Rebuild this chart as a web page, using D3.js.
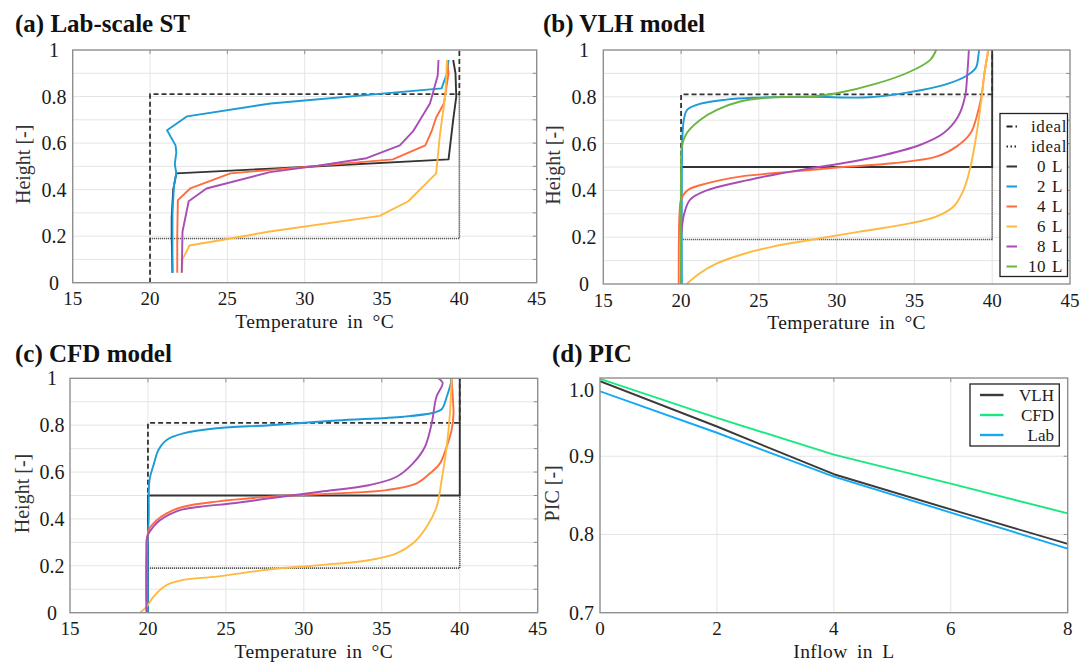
<!DOCTYPE html>
<html><head><meta charset="utf-8">
<script src="https://cdn.jsdelivr.net/npm/d3@7"></script>
<style>
body{margin:0;background:#fff;}
svg{display:block;font-family:"Liberation Serif","Times New Roman",serif;}
</style></head><body>
<svg id="c" width="1083" height="662"></svg>
<script>
// ---------------- DATA ----------------
const temperatureTicks = [15, 20, 25, 30, 35, 40, 45];
const heightTicks = [0, 0.2, 0.4, 0.6, 0.8, 1];
const heightGrid = [0.1, 0.2, 0.3, 0.4, 0.5, 0.6, 0.7, 0.8, 0.9];
const seriesNames = ["0 L", "2 L", "4 L", "6 L", "8 L", "10 L"];
const seriesColors = ["#333333", "#1b9bd7", "#ff6c3e", "#ffb940", "#a84db6", "#6bb541"];

// ideal profiles [temperature, height]
const idealDashed = [[20, 0], [20, 0.81], [40, 0.81], [40, 1]];
const idealDotted = [[20, 0.19], [40, 0.19], [40, 0.81]];
const ideal0L = [[20, 0], [20, 0.5], [40, 0.5], [40, 1]];

// (a) Lab-scale ST measured profiles
const lab0L = [[21.45,0.043],[21.4,0.2],[21.4,0.28],[21.5,0.4],[21.7,0.47],[27.8,0.49],[39.3,0.53],[39.6,0.7],[39.8,0.8],[39.75,0.9],[39.6,0.957]];
const lab2L = [[21.45,0.043],[21.45,0.3],[21.55,0.42],[21.7,0.47],[21.6,0.51],[21.7,0.56],[21.65,0.59],[21.1,0.655],[22.4,0.715],[27.8,0.77],[38.85,0.835],[39.2,0.9],[39.3,0.957]];
const lab4L = [[21.76,0.043],[21.76,0.2],[21.8,0.355],[22.6,0.405],[25.2,0.47],[27.8,0.485],[35.7,0.53],[37.8,0.59],[38.2,0.65],[38.5,0.71],[39.0,0.77],[39.3,0.9],[39.2,0.957]];
const lab6L = [[22.05,0.043],[22.1,0.1],[22.55,0.16],[25.2,0.19],[27.75,0.22],[34.85,0.287],[36.7,0.35],[38.5,0.47],[38.75,0.64],[39.1,0.81],[39.2,0.957]];
const lab8L = [[22.05,0.043],[22.1,0.22],[22.5,0.35],[23.65,0.405],[27.75,0.475],[30.55,0.5],[34.0,0.535],[36.15,0.59],[37.0,0.65],[38.1,0.77],[38.6,0.89],[38.65,0.957]];

// (b) VLH model profiles
const vlh2L = [[20.05,0],[20.05,0.5],[20.1,0.65],[20.2,0.71],[20.4,0.745],[21.2,0.77],[22.9,0.788],[24.6,0.796],[28.3,0.8],[32.1,0.798],[34.7,0.82],[36.86,0.85],[38.36,0.89],[38.96,0.925],[39.1,0.97],[39.15,1]];
const vlh4L = [[19.85,0],[19.9,0.3],[20.0,0.36],[20.4,0.40],[21.65,0.43],[23.8,0.459],[25.9,0.473],[28.3,0.487],[30.4,0.5],[33.6,0.516],[36.4,0.544],[37.7,0.587],[38.6,0.644],[39.0,0.715],[39.3,0.8],[39.5,0.9],[39.75,1]];
const vlh6L = [[20.36,0],[21.2,0.046],[22.3,0.088],[23.8,0.124],[25.9,0.16],[28.3,0.188],[31.5,0.224],[34.7,0.259],[36.4,0.288],[37.5,0.33],[38.15,0.40],[38.6,0.5],[39.0,0.644],[39.3,0.786],[39.5,0.9],[39.75,1]];
const vlh8L = [[20.0,0],[20.0,0.2],[20.05,0.24],[20.2,0.30],[20.57,0.36],[21.65,0.40],[23.8,0.437],[25.9,0.466],[28.3,0.494],[30.0,0.512],[32.6,0.544],[35.35,0.594],[36.86,0.644],[37.8,0.715],[38.25,0.8],[38.4,0.9],[38.5,1]];
const vlh10L = [[20.0,0],[20.0,0.5],[20.05,0.587],[20.36,0.644],[21.2,0.70],[22.3,0.744],[23.8,0.78],[25.9,0.798],[28.3,0.8],[30.0,0.815],[32.6,0.857],[34.7,0.907],[36.0,0.957],[36.4,1]];

// (c) CFD model profiles
const cfd2L = [[20,0],[20,0.33],[20.05,0.4],[20.1,0.566],[20.39,0.637],[20.67,0.694],[21.2,0.737],[22.27,0.765],[24.4,0.787],[27.83,0.8],[32.1,0.82],[36.4,0.836],[38.3,0.853],[38.84,0.868],[39.16,0.92],[39.45,0.99],[39.4,1]];
const cfd4L = [[19.9,0.05],[19.95,0.3],[20.05,0.353],[20.56,0.395],[21.2,0.424],[22.27,0.452],[24.4,0.474],[27.83,0.495],[32.1,0.509],[35.3,0.523],[37.24,0.552],[38.1,0.595],[38.73,0.637],[39.16,0.708],[39.48,0.78],[39.6,0.85],[39.55,0.92],[39.48,1]];
const cfd6L = [[19.49,0],[19.92,0.026],[20.35,0.068],[21.2,0.118],[22.27,0.14],[24.4,0.154],[27.83,0.185],[31.04,0.203],[34.24,0.225],[35.95,0.253],[37.0,0.296],[37.88,0.367],[38.52,0.452],[38.84,0.566],[39.16,0.708],[39.37,0.85],[39.48,1]];
const cfd8L = [[19.9,0],[19.9,0.25],[19.95,0.324],[20.35,0.367],[20.77,0.395],[22.06,0.438],[23.34,0.452],[25.47,0.467],[27.83,0.488],[31.04,0.516],[34.24,0.545],[35.95,0.58],[37.0,0.637],[37.77,0.708],[38.2,0.808],[38.5,0.92],[38.9,0.98],[38.6,1]];

// (d) PIC
const inflowTicks = [0, 2, 4, 6, 8];
const inflow = [0, 2, 4, 6, 8];
const picTicks = [0.7, 0.8, 0.9, 1.0];
const picVLH = [0.996, 0.938, 0.877, 0.832, 0.788];
const picCFD = [0.999, 0.949, 0.902, 0.865, 0.827];
const picLab = [0.983, 0.930, 0.874, 0.828, 0.782];
const picNames = ["VLH", "CFD", "Lab"];
const picColors = ["#3a3a3a", "#17e882", "#14a9f4"];

// ---------------- DRAWING ----------------
const svg = d3.select("#c");
const FRAME = "#8f8f8f", GRID = "#e4e4e4", TXT = "#1a1a1a";
let clipId = 0;

function panel(cfg) {
  const x = d3.scaleLinear().domain(cfg.xDomain).range([cfg.left, cfg.right]);
  const y = d3.scaleLinear().domain(cfg.yDomain).range([cfg.bottom, cfg.top]);
  const g = svg.append("g");
  g.selectAll("line.gx").data(cfg.xGrid).join("line").attr("class", "gx")
    .attr("x1", d => x(d)).attr("x2", d => x(d)).attr("y1", cfg.top).attr("y2", cfg.bottom)
    .attr("stroke", GRID).attr("stroke-width", 1);
  g.selectAll("line.gy").data(cfg.yGrid).join("line").attr("class", "gy")
    .attr("y1", d => y(d)).attr("y2", d => y(d)).attr("x1", cfg.left).attr("x2", cfg.right)
    .attr("stroke", GRID).attr("stroke-width", 1);
  g.selectAll("line.tt").data(cfg.xGrid).join("line").attr("class", "tt")
    .attr("x1", d => x(d)).attr("x2", d => x(d)).attr("y1", cfg.top).attr("y2", cfg.top + 4)
    .attr("stroke", FRAME);
  g.selectAll("line.tr").data(cfg.yGrid).join("line").attr("class", "tr")
    .attr("y1", d => y(d)).attr("y2", d => y(d)).attr("x1", cfg.right - 4).attr("x2", cfg.right)
    .attr("stroke", FRAME);
  const id = "clip" + (clipId++);
  svg.append("clipPath").attr("id", id).append("rect")
    .attr("x", cfg.left).attr("y", cfg.top - 1)
    .attr("width", cfg.right - cfg.left).attr("height", cfg.bottom - cfg.top + 2);
  const plot = g.append("g").attr("clip-path", `url(#${id})`);
  return { x, y, g, plot };
}

function frame(P, cfg) {
  P.g.append("rect").attr("x", cfg.left).attr("y", cfg.top)
    .attr("width", cfg.right - cfg.left).attr("height", cfg.bottom - cfg.top)
    .attr("fill", "none").attr("stroke", FRAME).attr("stroke-width", 1.4);
}

function labels(P, cfg) {
  const g = P.g;
  g.selectAll("text.xt").data(cfg.xTicks).join("text").attr("class", "xt")
    .attr("x", d => P.x(d)).attr("y", cfg.bottom + 16).attr("dy", "0.35em")
    .attr("text-anchor", "middle").attr("font-size", 19).attr("fill", TXT)
    .text(d => cfg.xFmt(d));
  g.selectAll("text.yt").data(cfg.yTicks).join("text").attr("class", "yt")
    .attr("x", d => cfg.yTickX(d)).attr("y", d => P.y(d) + (cfg.yTickDy ? cfg.yTickDy(d) : 0)).attr("dy", "0.35em")
    .attr("text-anchor", cfg.yAnchor).attr("font-size", 20).attr("fill", TXT)
    .text(d => cfg.yFmt(d));
  g.append("text").attr("x", (cfg.left + cfg.right) / 2 + 10).attr("y", cfg.bottom + 38).attr("dy", "0.35em")
    .attr("text-anchor", "middle").attr("font-size", 19.5).attr("word-spacing", 4).attr("letter-spacing", 0.4)
    .attr("fill", TXT).text(cfg.xLabel);
  g.append("text").attr("transform", `translate(${cfg.yLabelX},${(cfg.top + cfg.bottom) / 2 - 2}) rotate(-90)`)
    .attr("dy", "0.35em").attr("text-anchor", "middle").attr("font-size", 20)
    .attr("fill", "#333").text(cfg.yLabel);
  svg.append("text").attr("x", cfg.titleX).attr("y", cfg.titleY)
    .attr("font-size", 25).attr("font-weight", "bold").attr("fill", "#111").text(cfg.title);
}

function drawIdeals(P, withZero) {
  const line = d3.line().x(d => P.x(d[0])).y(d => P.y(d[1]));
  P.plot.append("path").attr("d", line(idealDotted)).attr("fill", "none")
    .attr("stroke", "#555").attr("stroke-width", 1.6).attr("stroke-dasharray", "1.2,0.8");
  P.plot.append("path").attr("d", line(idealDashed)).attr("fill", "none")
    .attr("stroke", "#333").attr("stroke-width", 1.8).attr("stroke-dasharray", "5,3");
  if (withZero) {
    P.plot.append("path").attr("d", line(ideal0L)).attr("fill", "none")
      .attr("stroke", "#333").attr("stroke-width", 1.8);
  }
}

function drawSeries(P, list, colors, curve) {
  const line = d3.line().x(d => P.x(d[0])).y(d => P.y(d[1])).curve(curve);
  P.plot.selectAll("path.s").data(list).join("path").attr("class", "s")
    .attr("d", d => line(d.values)).attr("fill", "none")
    .attr("stroke", d => colors[d.idx]).attr("stroke-width", 1.9)
    .attr("stroke-linejoin", "round");
}

const fmtT = d => String(d);
const fmtH = d => String(d);

// (a)
const cfgA = { left: 72.7, right: 536.7, top: 50, bottom: 282.7, xDomain: [15, 45], yDomain: [0, 1],
  xGrid: [20, 25, 30, 35, 40], yGrid: heightGrid, xTicks: temperatureTicks, yTicks: heightTicks,
  xFmt: fmtT, yFmt: fmtH, yAnchor: "middle", yTickX: d => 54,
  xLabel: "Temperature in °C", yLabel: "Height [-]", yLabelX: 23,
  title: "(a) Lab-scale ST", titleX: 15, titleY: 32 };
const A = panel(cfgA);
drawIdeals(A, false);
drawSeries(A, [{ idx: 0, values: lab0L }, { idx: 1, values: lab2L }, { idx: 2, values: lab4L },
  { idx: 3, values: lab6L }, { idx: 4, values: lab8L }], seriesColors, d3.curveLinear);
frame(A, cfgA); labels(A, cfgA);

// (b)
const cfgB = { left: 603.3, right: 1070, top: 50, bottom: 284, xDomain: [15, 45], yDomain: [0, 1],
  xGrid: [20, 25, 30, 35, 40], yGrid: heightGrid, xTicks: temperatureTicks, yTicks: heightTicks,
  xFmt: fmtT, yFmt: fmtH, yAnchor: "middle", yTickX: d => 584,
  xLabel: "Temperature in °C", yLabel: "Height [-]", yLabelX: 553,
  title: "(b) VLH model", titleX: 543, titleY: 32 };
const B = panel(cfgB);
drawIdeals(B, true);
drawSeries(B, [{ idx: 1, values: vlh2L }, { idx: 2, values: vlh4L }, { idx: 3, values: vlh6L },
  { idx: 4, values: vlh8L }, { idx: 5, values: vlh10L }], seriesColors, d3.curveCatmullRom.alpha(0.5));
frame(B, cfgB); labels(B, cfgB);

// legend (b)
{
  const lx0 = 1000, lx1 = 1067.5, ly0 = 113.5, ly1 = 276.5;
  const lg = svg.append("g");
  svg.append("clipPath").attr("id", "legclip").append("rect")
    .attr("x", lx0).attr("y", ly0).attr("width", lx1 - lx0).attr("height", ly1 - ly0);
  lg.append("rect").attr("x", lx0).attr("y", ly0).attr("width", lx1 - lx0).attr("height", ly1 - ly0)
    .attr("fill", "#fff").attr("stroke", "#222").attr("stroke-width", 1.3);
  const entries = [
    { label: "ideal", color: "#222", dash: "6,3,1.5,3", ideal: true },
    { label: "ideal", color: "#222", dash: "1.5,2.5", ideal: true }
  ].concat(seriesNames.map((n, i) => ({ label: n, color: seriesColors[i], dash: null, ideal: false })));
  const rowY = i => 126.5 + i * 20;
  const inner = lg.append("g").attr("clip-path", "url(#legclip)");
  inner.selectAll("line.ls").data(entries).join("line").attr("class", "ls")
    .attr("x1", 1006.5).attr("x2", (d, i) => i === 0 ? 1020 : 1017)
    .attr("y1", (d, i) => rowY(i)).attr("y2", (d, i) => rowY(i))
    .attr("stroke", d => d.color).attr("stroke-width", 2.2)
    .attr("stroke-dasharray", d => d.dash);
  inner.selectAll("text.lt").data(entries).join("text").attr("class", "lt")
    .attr("x", d => d.ideal ? 1031 : 1063).attr("y", (d, i) => rowY(i)).attr("dy", "0.35em")
    .attr("text-anchor", d => d.ideal ? "start" : "end").attr("font-size", 17)
    .attr("letter-spacing", 0.6).attr("word-spacing", 1).attr("fill", TXT).text(d => d.label);
}

// (c)
const cfgC = { left: 70, right: 537.7, top: 378.3, bottom: 612.7, xDomain: [15, 45], yDomain: [0, 1],
  xGrid: [20, 25, 30, 35, 40], yGrid: heightGrid, xTicks: temperatureTicks, yTicks: heightTicks,
  xFmt: fmtT, yFmt: fmtH, yAnchor: "middle", yTickX: d => 52,
  xLabel: "Temperature in °C", yLabel: "Height [-]", yLabelX: 22,
  title: "(c) CFD model", titleX: 15, titleY: 362 };
const C = panel(cfgC);
drawIdeals(C, true);
drawSeries(C, [{ idx: 1, values: cfd2L }, { idx: 2, values: cfd4L }, { idx: 3, values: cfd6L },
  { idx: 4, values: cfd8L }], seriesColors, d3.curveCatmullRom.alpha(0.5));
frame(C, cfgC); labels(C, cfgC);

// (d)
const cfgD = { left: 600, right: 1067.7, top: 378, bottom: 612.7, xDomain: [0, 8], yDomain: [0.7, 1.0],
  xGrid: [2, 4, 6], yGrid: [0.8, 0.9], xTicks: inflowTicks, yTicks: picTicks,
  xFmt: d => String(d), yFmt: d3.format(".1f"), yAnchor: "end", yTickX: d => 594,
  yTickDy: d => d === 1.0 ? 12 : 0,
  xLabel: "Inflow in L", yLabel: "PIC [-]", yLabelX: 552,
  title: "(d) PIC", titleX: 552, titleY: 362 };
const D = panel(cfgD);
const picSeries = [picVLH, picCFD, picLab].map((vals, i) => ({ idx: i, values: inflow.map((t, k) => [t, vals[k]]) }));
drawSeries(D, picSeries, picColors, d3.curveLinear);
frame(D, cfgD); labels(D, cfgD);

// legend (d)
{
  const lx0 = 970, lx1 = 1059.3, ly0 = 384, ly1 = 446;
  const lg = svg.append("g");
  lg.append("rect").attr("x", lx0).attr("y", ly0).attr("width", lx1 - lx0).attr("height", ly1 - ly0)
    .attr("fill", "#fff").attr("stroke", "#222").attr("stroke-width", 1.3);
  const rowY = i => 395 + i * 20;
  lg.selectAll("line").data(picNames).join("line")
    .attr("x1", 980).attr("x2", 1003.5).attr("y1", (d, i) => rowY(i)).attr("y2", (d, i) => rowY(i))
    .attr("stroke", (d, i) => picColors[i]).attr("stroke-width", 2.4);
  lg.selectAll("text").data(picNames).join("text")
    .attr("x", 1054).attr("y", (d, i) => rowY(i)).attr("dy", "0.35em").attr("text-anchor", "end")
    .attr("font-size", 17).attr("fill", TXT).text(d => d);
}
</script>
</body></html>
